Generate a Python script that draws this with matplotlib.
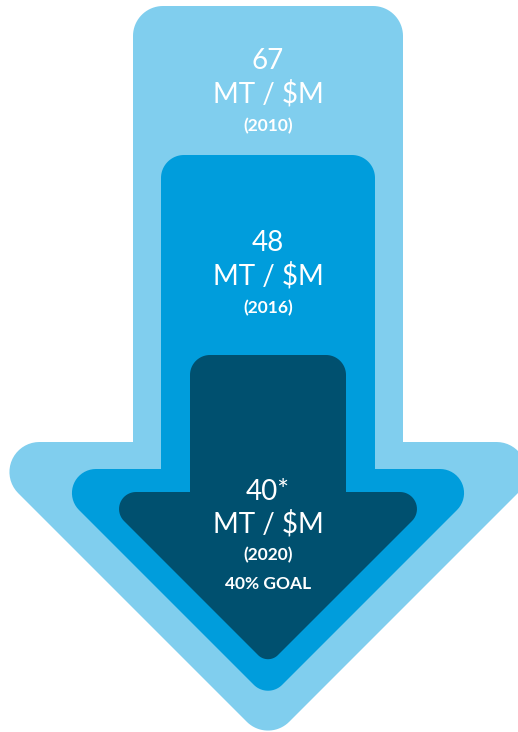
import numpy as np
import matplotlib
matplotlib.use('Agg')
import matplotlib.pyplot as plt
from matplotlib.patches import Polygon

# chart data - emissions intensity, metric tonnes per $M
VALUE_LABELS = ['67', '48', '40*']
UNIT_LABELS = ['MT / $M', 'MT / $M', 'MT / $M']
YEAR_LABELS = ['(2010)', '(2016)', '(2020)']
GOAL_LABEL = '40% GOAL'
ARROW_COLOURS = ['#80CEEE', '#009DDC', '#00506F']

# arrow layout, in pixels (image coords, y going down)
CENTER_X = 268
SHAFT_HALF = [135, 107, 78]
SHAFT_TOP = [6, 155, 355]
SHOULDER_Y = [442, 469, 492]
TIP_Y = [743, 699, 665]
# corner radii: shaft top, head corners, tip
RADII = [(30, 30, 30), (23, 24, 20), (20, 17, 14)]
# text rows (y centers) for each arrow
TEXT_Y = [(61, 94, 126), (243, 276, 308), (492, 524, 555)]
GOAL_Y = 584

FONT = 'Lato'


def rounded_polygon(pts, radii, steps=20):
    # fillet each corner with a proper circular arc (radius 0 = leave it sharp)
    out = []
    k = len(pts)
    for i in range(k):
        v = np.array(pts[i], dtype=float)
        p = np.array(pts[i - 1], dtype=float)
        n = np.array(pts[(i + 1) % k], dtype=float)
        r = radii[i]
        if r == 0:
            out.append(v)
            continue
        u1 = (p - v) / np.linalg.norm(p - v)
        u2 = (n - v) / np.linalg.norm(n - v)
        half = np.arccos(np.clip(np.dot(u1, u2), -1, 1)) / 2
        d = r / np.tan(half)
        t1 = v + u1 * d
        t2 = v + u2 * d
        bis = (u1 + u2) / np.linalg.norm(u1 + u2)
        c = v + bis * r / np.sin(half)
        a1 = np.arctan2(t1[1] - c[1], t1[0] - c[0])
        a2 = np.arctan2(t2[1] - c[1], t2[0] - c[0])
        da = (a2 - a1 + np.pi) % (2 * np.pi) - np.pi
        for t in np.linspace(0, 1, steps):
            a = a1 + da * t
            out.append(c + r * np.array([np.cos(a), np.sin(a)]))
    return np.array(out)


def arrow_points(i):
    hw = SHAFT_HALF[i]
    head = TIP_Y[i] - SHOULDER_Y[i]  # 45 degree head
    top, sh, tip = SHAFT_TOP[i], SHOULDER_Y[i], TIP_Y[i]
    pts = [
        (CENTER_X - hw, top), (CENTER_X + hw, top),
        (CENTER_X + hw, sh), (CENTER_X + head, sh),
        (CENTER_X, tip),
        (CENTER_X - head, sh), (CENTER_X - hw, sh),
    ]
    r_top, r_head, r_tip = RADII[i]
    radii = [r_top, r_top, 0, r_head, r_tip, r_head, 0]
    return pts, radii


fig = plt.figure(figsize=(5.18, 7.32), dpi=100)
ax = fig.add_axes([0, 0, 1, 1])
ax.set_xlim(0, 518)
ax.set_ylim(732, 0)
ax.set_aspect('equal')
ax.axis('off')

for i in range(len(VALUE_LABELS)):
    pts, radii = arrow_points(i)
    shape = rounded_polygon(pts, radii)
    ax.add_patch(Polygon(shape, closed=True, facecolor=ARROW_COLOURS[i], edgecolor='none'))

    y_val, y_unit, y_year = TEXT_Y[i]
    ax.text(CENTER_X, y_val, VALUE_LABELS[i], color='white', fontsize=20, family=FONT,
            fontweight='normal', ha='center', va='center')
    ax.text(CENTER_X, y_unit, UNIT_LABELS[i], color='white', fontsize=20, family=FONT,
            fontweight='normal', ha='center', va='center')
    ax.text(CENTER_X, y_year, YEAR_LABELS[i], color='white', fontsize=12.5, family=FONT,
            fontweight='bold', ha='center', va='center')

ax.text(CENTER_X, GOAL_Y, GOAL_LABEL, color='white', fontsize=12.5, family=FONT,
        fontweight='bold', ha='center', va='center')

fig.savefig('out.png', dpi=100)
